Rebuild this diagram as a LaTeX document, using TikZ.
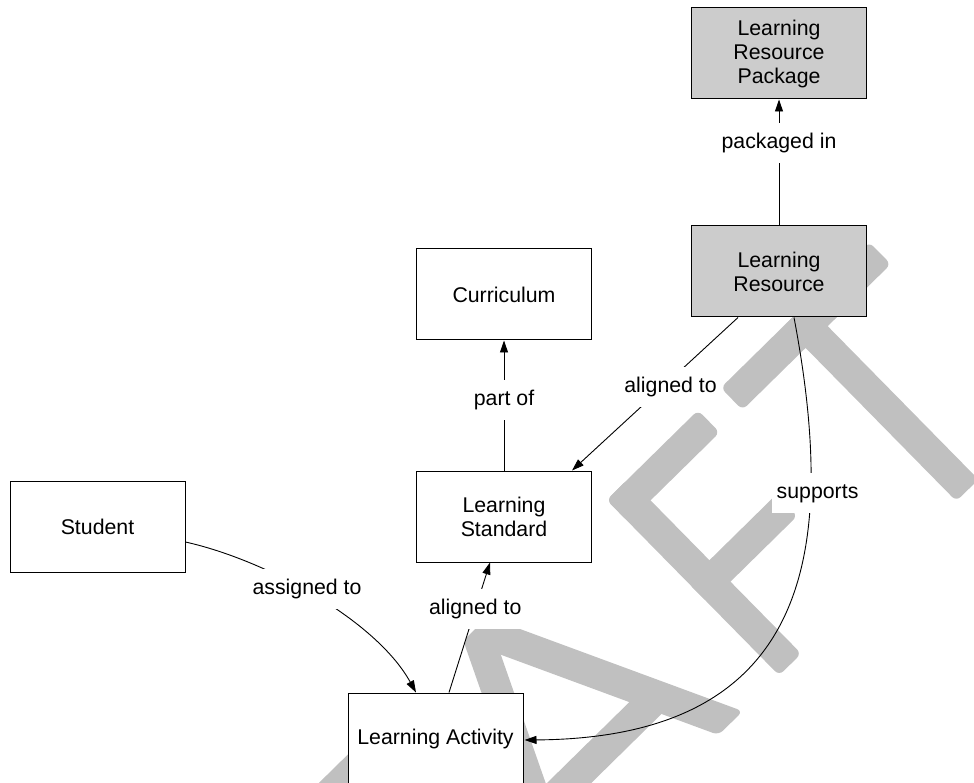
\documentclass[tikz,border=0pt]{standalone}
\usepackage{fontspec}
\setmainfont{Liberation Sans}
\usetikzlibrary{arrows.meta}
\definecolor{wmgray}{RGB}{192,192,192}
\definecolor{boxgray}{RGB}{204,204,204}
\newcommand{\wmbar}[4]{\fill[wm] (#1,#2) -- (#3,#2) -- (#3,#4) -- (#1,#4) -- cycle;}
\begin{document}
\begin{tikzpicture}[x=1pt,y=-1pt,
  entity/.style={draw=black, line width=1pt, fill=white, minimum width=175pt, minimum height=91pt, inner sep=0pt, align=center, font=\fontsize{21.3}{24}\selectfont},
  shaded/.style={entity, fill=boxgray},
  lbl/.style={fill=white, inner xsep=5pt, inner ysep=10pt, text height=15.5pt, text depth=4.5pt, font=\fontsize{21.3}{24}\selectfont},
  conn/.style={draw=black, line width=0.9pt},
  arr/.style={conn, -{Triangle[length=12pt,width=8pt]}},
  wm/.style={fill=wmgray, rounded corners=6pt}]
\useasboundingbox (0,0) rectangle (974,783);
\fill[white] (0,0) rectangle (974,783);
% watermark (rotated DRAFT)
\begin{scope}[shift={(606.7,500)}, x={(0.713pt,0.701pt)}, y={(-0.701pt,0.713pt)}]
  % R (top bar only visible)
  \wmbar{-620}{0}{-352}{-31}
  % A
  \fill[wm] (-317,-246) -- (-283,-246) -- (-167,0) -- (-201,0) -- cycle;
  \fill[wm] (-201,0) -- (-167,0) -- (-51,-246) -- (-85,-246) -- cycle;
  \wmbar{-265}{-191}{-100}{-160}
  % F
  \wmbar{0}{0}{31}{-246}
  \wmbar{0}{0}{128}{-31}
  \wmbar{0}{-115}{125}{-145}
  % T
  \wmbar{160}{0}{368}{-31}
  \wmbar{248.5}{0}{279.5}{-246}
\end{scope}
% nodes
\node[shaded] (lrp) at (779,53.5) {Learning\\Resource\\Package};
\node[shaded] (lr) at (779,271.5) {Learning\\Resource};
\node[entity] (cur) at (504,294.5) {Curriculum};
\node[entity] (ls) at (504,516.5) {Learning\\Standard};
\node[entity] (stu) at (97.5,526.5) {Student};
\node[entity] (la) at (435.5,738.5) {Learning Activity};
% connectors
\draw[arr] (lr.north) -- node[lbl,pos=0.654]{packaged in} (lrp.south);
\draw[arr] (ls.north) -- node[lbl,pos=0.54]{part of} (cur.south);
\draw[arr] ([xshift=-41pt]lr.south) -- node[lbl,pos=0.4545,xshift=8pt]{aligned to} ([xshift=68pt]ls.north);
\draw[arr] ([xshift=13.5pt]la.north) -- node[lbl,pos=0.641]{aligned to} ([xshift=-14pt]ls.south);
\draw[arr] ([yshift=-15.5pt]stu.east) .. controls (266,560) and (376,620) .. node[lbl,pos=0.45,xshift=4pt]{assigned to} ([xshift=-19.5pt]la.north);
\draw[arr] ([xshift=15pt]lr.south) .. controls (838,550) and (812,738) .. node[lbl,pos=0.27,xshift=7pt]{supports} ([xshift=1pt,yshift=-1.5pt]la.east);
\end{tikzpicture}
\end{document}
